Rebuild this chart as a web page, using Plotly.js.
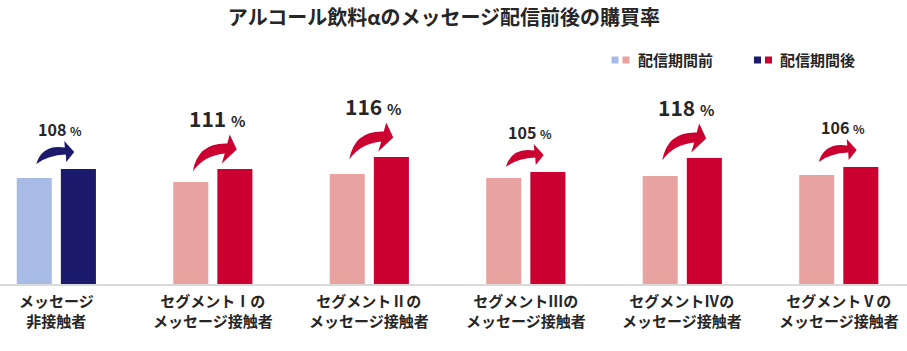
<!DOCTYPE html>
<html>
<head>
<meta charset="utf-8">
<script src="https://cdn.plot.ly/plotly-3.0.1.min.js"></script>
<style>html,body{margin:0;padding:0;background:#fff;}#chart{width:907px;height:351px;}</style>
</head>
<body>
<div id="chart"></div>
<script>
// ---- data ----
const categories = [
  'メッセージ<br>非接触者',
  'セグメントⅠの<br>メッセージ接触者',
  'セグメントⅡの<br>メッセージ接触者',
  'セグメントⅢの<br>メッセージ接触者',
  'セグメントⅣの<br>メッセージ接触者',
  'セグメントⅤの<br>メッセージ接触者'
];
const beforeValues = [10.6, 10.2, 11.0, 10.6, 10.8, 10.9];
const afterValues  = [11.5, 11.5, 12.7, 11.2, 12.6, 11.7];
const ratioLabels  = [108, 111, 116, 105, 118, 106];
const seriesNames  = ['配信期間前', '配信期間後'];
const chartTitle   = 'アルコール飲料αのメッセージ配信前後の購買率';

// ---- style ----
const FONT = '"Noto Sans CJK JP", "Noto Sans", sans-serif';
const TXT = '#262626';
const LIGHT_BLUE = '#a7bbe4', NAVY = '#1b1a6c', PINK = '#e8a3a1', CRIMSON = '#cb0031';
const beforeColors = categories.map((_, i) => i === 0 ? LIGHT_BLUE : PINK);
const afterColors  = categories.map((_, i) => i === 0 ? NAVY : CRIMSON);
const BAR_W = 0.224, OFF_B = -0.253, OFF_A = 0.029;
const W = 907, H = 351, MT = 50, MB = 67;
const plotH = H - MT - MB;
const xs = categories.map((_, i) => i);

const traces = [
  {type: 'bar', name: seriesNames[0], x: xs, y: beforeValues, width: BAR_W, offset: OFF_B,
   marker: {color: beforeColors, line: {width: 0}}, hoverinfo: 'y', showlegend: false},
  {type: 'bar', name: seriesNames[1], x: xs, y: afterValues, width: BAR_W, offset: OFF_A,
   marker: {color: afterColors, line: {width: 0}}, hoverinfo: 'y', showlegend: false}
];

// curved arrow templates (pixels relative to tail, y up)
const BIG = [['M',0,0],['Q',5,29,34.5,28],['L',37,37],['L',44,22],['L',29,8],['L',32,18],['Q',11,16,0,0]];
const SMALL = [['M',0,0],['Q',6,20,28.6,16.5],['L',28,23],['L',38,12],['L',30,2],['L',29.5,9.5],['Q',12,9,0,0]];
function buildPath(tpl, dx, dy) {
  return tpl.map(seg => {
    const c = seg[0], n = seg.slice(1);
    const out = [];
    for (let k = 0; k < n.length; k += 2) out.push((n[k] + dx).toFixed(1) + ',' + (n[k+1] + dy).toFixed(1));
    return c + out.join(' ');
  }).join(' ') + ' Z';
}

const py = v => (H - MB - v) / plotH;   // pixel y -> paper
const pxp = v => v / W;                 // pixel x -> paper

const shapes = [];
const annotations = [];
categories.forEach((cat, i) => {
  const big = ratioLabels[i] >= 110;
  shapes.push({
    type: 'path', xref: 'x', yref: 'y', xsizemode: 'pixel', ysizemode: 'pixel',
    xanchor: i + OFF_B + BAR_W / 2, yanchor: afterValues[i],
    path: buildPath(big ? BIG : SMALL, 2, big ? -2.5 : 5),
    fillcolor: afterColors[i], line: {width: 0}, layer: 'above'
  });
  const ns = big ? 21 : 16, ps = big ? 15 : 12;
  annotations.push({
    x: i, y: afterValues[i], xref: 'x', yref: 'y', xshift: 4, yshift: big ? 51 : 40,
    yanchor: 'middle', xanchor: 'center', showarrow: false,
    text: ratioLabels[i] + ' <span style="font-size:' + ps + 'px">%</span>',
    font: {family: FONT, size: ns, color: TXT, weight: 700}
  });
  // category label (two lines)
  annotations.push({
    x: i, xref: 'x', y: py(310), yref: 'paper', xanchor: 'center', yanchor: 'middle',
    showarrow: false, text: cat, font: {family: FONT, size: 15, color: TXT, weight: 700}
  });
});

// legend (two-colour squares + text)
const legendItems = [
  {colors: [LIGHT_BLUE, PINK], x: 611.5, text: seriesNames[0]},
  {colors: [NAVY, CRIMSON], x: 754, text: seriesNames[1]}
];
legendItems.forEach(it => {
  it.colors.forEach((c, k) => {
    const x0 = it.x + k * 11;
    shapes.push({type: 'rect', xref: 'paper', yref: 'paper', x0: pxp(x0), x1: pxp(x0 + 7),
      y0: py(63.5), y1: py(56.5), fillcolor: c, line: {width: 0}});
  });
  annotations.push({xref: 'paper', yref: 'paper', x: pxp(it.x + 24), y: py(60), xanchor: 'left', yanchor: 'middle',
    showarrow: false, text: it.text, font: {family: FONT, size: 15, color: TXT, weight: 700}});
});

const layout = {
  width: W, height: H,
  margin: {l: 0, r: 0, t: MT, b: MB, pad: 0},
  paper_bgcolor: '#ffffff', plot_bgcolor: '#ffffff',
  title: {text: chartTitle, x: 444 / W, xanchor: 'center', y: 1 - 18 / H, yanchor: 'middle', yref: 'container',
    font: {family: FONT, size: 20, color: TXT, weight: 700}},
  barmode: 'group',
  xaxis: {type: 'linear', range: [-0.36, 5.436], tickvals: xs, showticklabels: false,
    showline: true, linecolor: '#d9d9d9', linewidth: 1.5, showgrid: false, zeroline: false, ticks: '',
    fixedrange: true},
  yaxis: {range: [0, plotH / 10], visible: false, showgrid: false, zeroline: false, fixedrange: true},
  shapes: shapes, annotations: annotations, showlegend: false
};

Plotly.newPlot('chart', traces, layout, {displayModeBar: false, staticPlot: true});
</script>
</body>
</html>
